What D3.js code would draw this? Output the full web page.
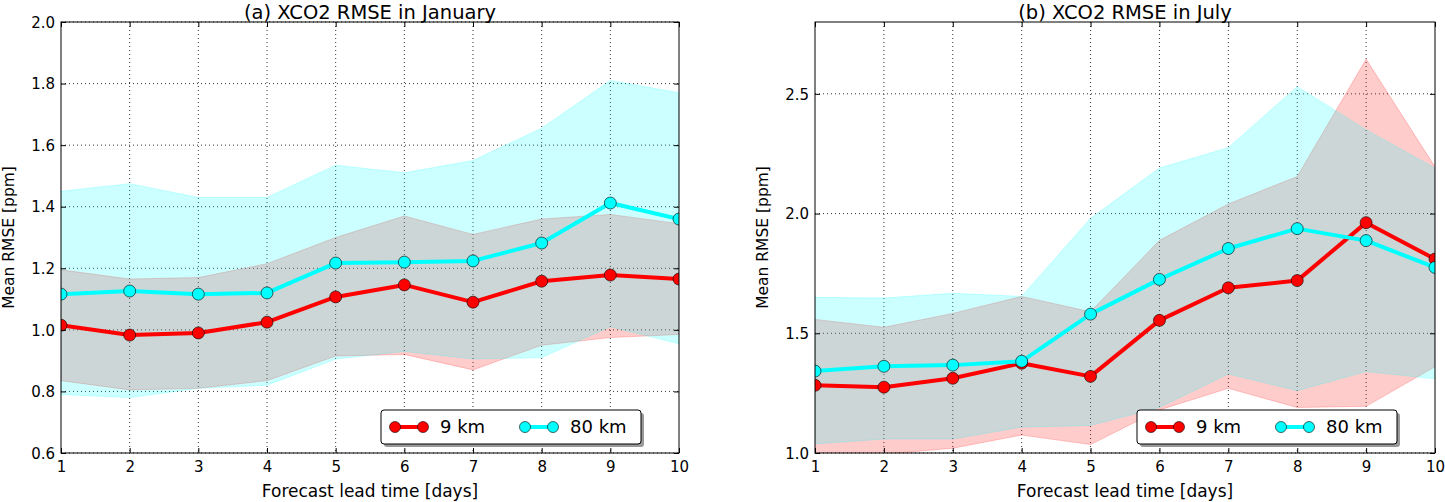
<!DOCTYPE html>
<html>
<head>
<meta charset="utf-8">
<script src="https://cdn.jsdelivr.net/npm/d3@7"></script>
<style>
body{margin:0;background:#fff;}
text{font-family:"DejaVu Sans",sans-serif;}
</style>
</head>
<body>
<div id="chart-area"></div>
<script>
// lead time in days
var days=[1,2,3,4,5,6,7,8,9,10];

// January
var jan9=[1.015,0.983,0.990,1.025,1.107,1.146,1.090,1.158,1.178,1.165];
var jan9Lo=[0.835,0.805,0.810,0.835,0.915,0.920,0.870,0.950,0.975,0.985];
var jan9Hi=[1.195,1.165,1.170,1.215,1.300,1.370,1.310,1.360,1.375,1.345];
var jan80=[1.116,1.126,1.116,1.120,1.217,1.220,1.224,1.282,1.412,1.360];
var jan80Lo=[0.790,0.780,0.810,0.820,0.905,0.930,0.905,0.910,1.010,0.955];
var jan80Hi=[1.450,1.475,1.430,1.430,1.535,1.510,1.550,1.655,1.810,1.770];

// July
var jul9=[1.283,1.275,1.312,1.375,1.320,1.554,1.690,1.720,1.962,1.810];
var jul9Lo=[0.990,0.995,1.020,1.075,1.035,1.180,1.270,1.190,1.195,1.360];
var jul9Hi=[1.558,1.525,1.583,1.654,1.590,1.888,2.040,2.155,2.645,2.195];
var jul80=[1.342,1.362,1.367,1.383,1.580,1.725,1.854,1.937,1.887,1.775];
var jul80Lo=[1.038,1.058,1.058,1.108,1.115,1.190,1.330,1.260,1.340,1.310];
var jul80Hi=[1.650,1.647,1.667,1.654,1.980,2.190,2.275,2.530,2.350,2.190];

var janTicks=[0.6,0.8,1.0,1.2,1.4,1.6,1.8,2.0];
var julTicks=[1.0,1.5,2.0,2.5];
var labels=["9 km","80 km"];

var W=1445,H=502;
var svg=d3.select("#chart-area").append("svg")
    .attr("width",W)
    .attr("height",H);

function panel(id,left,right,title,yDomain,yTicks,fmt,s9,lo9,hi9,s80,lo80,hi80){
    var top=22,bottom=453;
    var x=d3.scaleLinear().domain([1,10]).range([left,right]);
    var y=d3.scaleLinear().domain(yDomain).range([bottom,top]);

    svg.append("clipPath").attr("id","clip"+id)
        .append("rect")
        .attr("x",left).attr("y",top)
        .attr("width",right-left).attr("height",bottom-top);

    var g=svg.append("g");

    // grid
    g.selectAll(".gx").data(days.slice(1,9)).enter().append("line")
        .attr("x1",d=>x(d)).attr("x2",d=>x(d))
        .attr("y1",top).attr("y2",bottom)
        .attr("stroke","#000").attr("stroke-width",0.8)
        .attr("stroke-dasharray","1,3");
    g.selectAll(".gy").data(yTicks).enter().append("line")
        .attr("x1",left).attr("x2",right)
        .attr("y1",d=>y(d)).attr("y2",d=>y(d))
        .attr("stroke","#000").attr("stroke-width",0.8)
        .attr("stroke-dasharray","1,3");

    var plot=g.append("g").attr("clip-path","url(#clip"+id+")");

    var band=function(lo,hi){
        return d3.area()
            .x((d,i)=>x(days[i]))
            .y0((d,i)=>y(lo[i]))
            .y1((d,i)=>y(hi[i]))(days);
    };
    plot.append("path").attr("d",band(lo9,hi9))
        .attr("fill","rgba(255,0,0,0.2)")
        .attr("stroke","rgba(255,0,0,0.2)");
    plot.append("path").attr("d",band(lo80,hi80))
        .attr("fill","rgba(0,255,255,0.2)")
        .attr("stroke","rgba(0,255,255,0.2)");

    var series=[{v:s9,c:"#ff0000"},{v:s80,c:"#00ffff"}];
    series.forEach(function(s){
        plot.append("path")
            .attr("d",d3.line().x((d,i)=>x(days[i])).y(d=>y(d))(s.v))
            .attr("fill","none")
            .attr("stroke",s.c)
            .attr("stroke-width",4)
            .attr("stroke-linejoin","round");
        plot.selectAll(null).data(s.v).enter().append("circle")
            .attr("cx",(d,i)=>x(days[i]))
            .attr("cy",d=>y(d))
            .attr("r",6)
            .attr("fill",s.c)
            .attr("stroke","#000")
            .attr("stroke-width",0.6);
    });

    // axes with inward ticks on all sides
    var ax=g.append("g").attr("transform","translate(0,"+bottom+")")
        .call(d3.axisBottom(x).tickValues(days).tickFormat(d3.format("d")).tickSizeInner(-5).tickSizeOuter(0).tickPadding(8));
    var axT=g.append("g").attr("transform","translate(0,"+top+")")
        .call(d3.axisTop(x).tickValues(days).tickFormat("").tickSizeInner(-5).tickSizeOuter(0));
    var ay=g.append("g").attr("transform","translate("+left+",0)")
        .call(d3.axisLeft(y).tickValues(yTicks).tickFormat(d3.format(fmt)).tickSizeInner(-5).tickSizeOuter(0).tickPadding(6));
    var ayR=g.append("g").attr("transform","translate("+right+",0)")
        .call(d3.axisRight(y).tickValues(yTicks).tickFormat("").tickSizeInner(-5).tickSizeOuter(0));
    [ax,axT,ay,ayR].forEach(function(a){
        a.select(".domain").remove();
        a.selectAll("text").attr("font-size","15px").attr("fill","#000")
            .attr("font-family","'DejaVu Sans',sans-serif");
        a.selectAll("line").attr("stroke","#000");
    });
    ay.selectAll("text").attr("dy","0.35em");

    g.append("rect")
        .attr("x",left).attr("y",top)
        .attr("width",right-left).attr("height",bottom-top)
        .attr("fill","none").attr("stroke","#000").attr("stroke-width",1);

    var cx=(left+right)/2;
    g.append("text")
        .attr("x",cx).attr("y",18.5)
        .attr("text-anchor","middle")
        .attr("font-size","19.5px")
        .text(title);
    g.append("text")
        .attr("x",cx).attr("y",497)
        .attr("text-anchor","middle")
        .attr("font-size","17px")
        .text("Forecast lead time [days]");
    g.append("text")
        .attr("transform","translate("+(left-47)+","+((top+bottom)/2)+") rotate(-90)")
        .attr("text-anchor","middle")
        .attr("font-size","15.5px")
        .text("Mean RMSE [ppm]");

    // legend
    var lx=right-298,ly=410,lw=260,lh=34;
    var legend=g.append("g");
    legend.append("rect")
        .attr("x",lx+3).attr("y",ly+3).attr("width",lw).attr("height",lh)
        .attr("rx",3).attr("fill","#999");
    legend.append("rect")
        .attr("x",lx).attr("y",ly).attr("width",lw).attr("height",lh)
        .attr("rx",3).attr("fill","#fff").attr("stroke","#000").attr("stroke-width",1);
    series.forEach(function(s,i){
        var sx=lx+14+i*130,sy=ly+lh/2;
        legend.append("line")
            .attr("x1",sx).attr("x2",sx+28).attr("y1",sy).attr("y2",sy)
            .attr("stroke",s.c).attr("stroke-width",4);
        [sx,sx+28].forEach(function(px){
            legend.append("circle").attr("cx",px).attr("cy",sy).attr("r",5.5)
                .attr("fill",s.c).attr("stroke","#000").attr("stroke-width",0.6);
        });
        legend.append("text")
            .attr("x",sx+45).attr("y",sy+6)
            .attr("font-size","18px")
            .text(labels[i]);
    });
}

panel("a",61,679,"(a) XCO2 RMSE in January",[0.6,2.0],janTicks,".1f",
    jan9,jan9Lo,jan9Hi,jan80,jan80Lo,jan80Hi);
panel("b",815,1435,"(b) XCO2 RMSE in July",[1.0,2.8],julTicks,".1f",
    jul9,jul9Lo,jul9Hi,jul80,jul80Lo,jul80Hi);
</script>
</body>
</html>
